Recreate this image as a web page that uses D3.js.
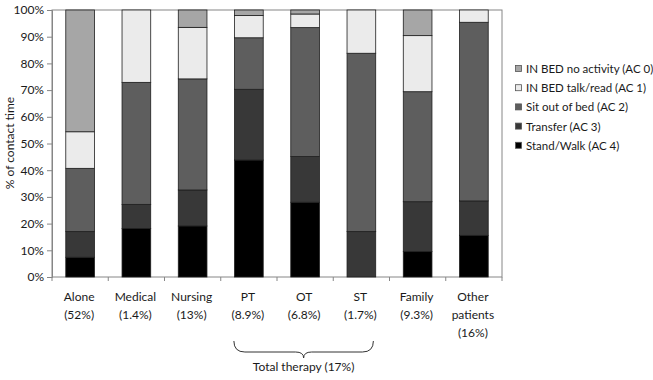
<!DOCTYPE html>
<html><head><meta charset="utf-8">
<script src="https://cdn.jsdelivr.net/npm/d3@7"></script>
<style>body{margin:0;background:#fff}svg{display:block;font-family:Lato,"Liberation Sans",sans-serif}</style>
</head><body><svg id="c" width="653" height="380"></svg>
<script>
const categories = ["Alone","Medical","Nursing","PT","OT","ST","Family","Other patients"];
const catShares = ["(52%)","(1.4%)","(13%)","(8.9%)","(6.8%)","(1.7%)","(9.3%)","(16%)"];
const seriesNames = ["Stand/Walk (AC 4)","Transfer (AC 3)","Sit out of bed (AC 2)","IN BED talk/read (AC 1)","IN BED no activity (AC 0)"];
const ac4 = [7.4, 18.2, 19.1, 43.8, 28.0, 0.0, 9.5, 15.6];
const ac3 = [9.6, 9.0, 13.5, 26.5, 17.1, 17.0, 18.7, 12.9];
const ac2 = [23.7, 45.7, 41.6, 19.3, 48.3, 66.8, 41.2, 66.9];
const ac1 = [13.7, 27.1, 19.3, 8.3, 5.1, 16.2, 21.0, 4.6];
const ac0 = [45.6, 0.0, 6.5, 2.1, 1.5, 0.0, 9.6, 0.0];
const yTicks = [0,10,20,30,40,50,60,70,80,90,100];
const groupLabel = "Total therapy (17%)";
const groupMembers = ["PT","ST"];
const colors = ["#000000","#383838","#5e5e5e","#ebebeb","#a6a6a6"];

const series = [ac4, ac3, ac2, ac1, ac0];
const rows = categories.map((c,i)=>{const o={cat:c}; seriesNames.forEach((s,j)=>o[s]=series[j][i]); return o;});
const stacked = d3.stack().keys(seriesNames)(rows);

const svg = d3.select("#c");
const L=52, R=502, T=10, B=277;
const x = d3.scaleBand().domain(categories).range([L,R]).paddingInner(0.49).paddingOuter(0.245);
const y = d3.scaleLinear().domain([0,100]).range([B,T]);
const axisCol = "#868686";
const txt = "#1a1a1a";

svg.append("rect").attr("x",L).attr("y",T).attr("width",R-L).attr("height",B-T)
  .attr("fill","none").attr("stroke",axisCol).attr("stroke-width",1);

svg.append("g").selectAll("g").data(stacked).join("g")
  .attr("fill",(d,i)=>colors[i])
  .selectAll("rect").data(d=>d.filter(e=>e[1]-e[0]>0)).join("rect")
  .attr("x",d=>x(d.data.cat)).attr("width",x.bandwidth())
  .attr("y",d=>y(d[1])).attr("height",d=>y(d[0])-y(d[1]))
  .attr("stroke","#1e1e1e").attr("stroke-width",0.8);

const ya = svg.append("g").attr("transform",`translate(${L},0)`)
  .call(d3.axisLeft(y).tickValues(yTicks).tickFormat(d=>d+"%").tickSize(5).tickPadding(3));
ya.select(".domain").attr("stroke",axisCol);
ya.selectAll(".tick line").attr("stroke",axisCol);
ya.selectAll("text").attr("font-size","12px").attr("fill",txt).attr("font-family","Lato");

const bounds = d3.range(categories.length+1).map(i=>L+i*(R-L)/categories.length);
svg.append("g").selectAll("line").data(bounds).join("line")
  .attr("x1",d=>d).attr("x2",d=>d).attr("y1",B).attr("y2",B+4)
  .attr("stroke",axisCol);

const xl = svg.append("g").attr("font-size","12px").attr("fill",txt).attr("text-anchor","middle");
categories.forEach((c,i)=>{
  const cx = x(c)+x.bandwidth()/2 - 1;
  const words = c==="Other patients" ? ["Other","patients"] : [c];
  const lines = words.concat([catShares[i]]);
  lines.forEach((t,k)=>xl.append("text").attr("x",cx).attr("y",301+k*18).text(t));
});

const bx0 = x(groupMembers[0])+x.bandwidth()/2-15, bx1 = x(groupMembers[1])+x.bandwidth()/2+12;
const bxm = (bx0+bx1)/2, by0=341, by1=352, by2=358;
const r=8;
svg.append("path").attr("fill","none").attr("stroke","#333").attr("stroke-width",1)
  .attr("d",`M${bx0},${by0} Q${bx0},${by1} ${bx0+r+3},${by1} L${bxm-r},${by1} Q${bxm},${by1} ${bxm},${by2} Q${bxm},${by1} ${bxm+r},${by1} L${bx1-r-3},${by1} Q${bx1},${by1} ${bx1},${by0}`);
svg.append("text").attr("x",bxm).attr("y",371).attr("text-anchor","middle")
  .attr("font-size","12px").attr("fill",txt).text(groupLabel);

svg.append("text").attr("transform","translate(14,143) rotate(-90)").attr("text-anchor","middle")
  .attr("font-size","12px").attr("fill",txt).text("% of contact time");

const legOrder = [4,3,2,1,0];
const lg = svg.append("g");
legOrder.forEach((si,k)=>{
  const yy = 69 + k*19.2;
  lg.append("rect").attr("x",515.5).attr("y",yy-3.5).attr("width",6).attr("height",6)
    .attr("fill",colors[si]).attr("stroke","#555").attr("stroke-width",0.8);
  lg.append("text").attr("x",526).attr("y",yy+4).attr("font-size","11.5px").attr("fill",txt).text(seriesNames[si]);
});
</script></body></html>
